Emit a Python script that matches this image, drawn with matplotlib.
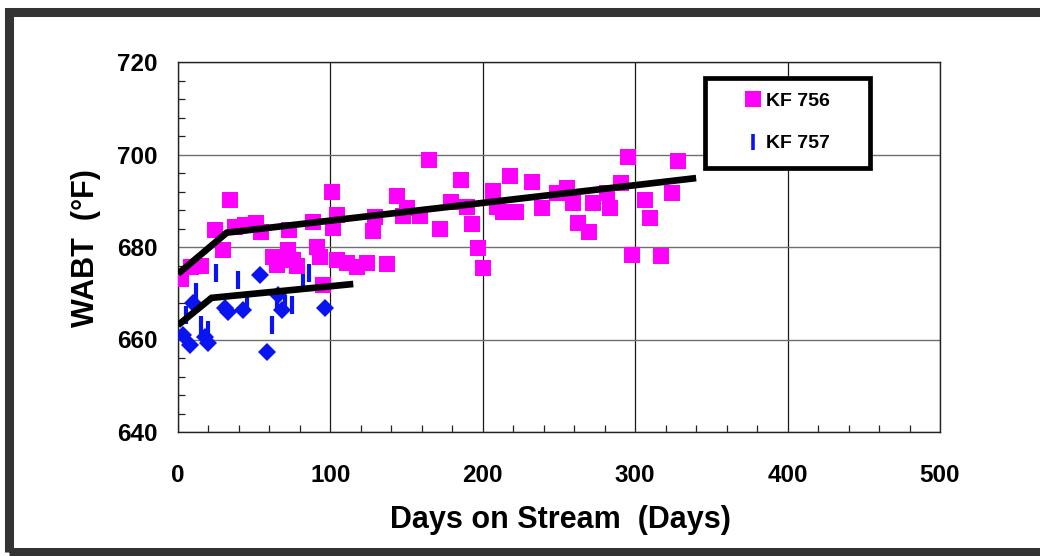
import matplotlib
matplotlib.use("Agg")
import matplotlib.pyplot as plt
from matplotlib.patches import Rectangle
from matplotlib.lines import Line2D
from matplotlib.ticker import MultipleLocator

plt.rcParams['font.family'] = ['Liberation Sans', 'DejaVu Sans']

# KF 756 (magenta squares)
kf756_days = [2, 8.5, 15, 24, 29.5, 34, 37.5, 44, 51, 54.5,
              62.3, 65, 72.2, 72.8, 75.5, 78, 88.6, 91.2, 93.2, 95,
              101, 101.7, 104.3, 104.3, 111, 117.5, 124, 128, 129, 137,
              143.7, 147.6, 150, 158.8, 164.7, 172, 179, 185.7, 189.6, 193,
              197, 200, 206.7, 209, 213, 218, 222, 232, 239, 248.7,
              255, 259, 262.5, 269.7, 272, 281.5, 283.5, 291, 295, 298,
              306.5, 309.7, 317, 324, 328]
kf756_wabt = [673, 675.7, 675.9, 683.7, 679.4, 690.2, 684.3, 684.8, 685.2, 683.2,
              677.8, 676.1, 679.4, 683.7, 677.2, 676, 685.4, 680, 677.8, 671.8,
              691.9, 684.1, 686.9, 677.2, 676.5, 675.7, 676.5, 683.5, 686.5, 676.3,
              691, 686.7, 688.4, 686.7, 698.8, 683.9, 689.7, 694.5, 688.6, 685,
              679.8, 675.5, 692.1, 688.6, 687.6, 695.4, 687.6, 694, 688.4, 691.7,
              692.8, 689.5, 685.2, 683.2, 689.5, 691.7, 688.4, 693.8, 699.4, 678.3,
              690.2, 686.3, 678, 691.7, 698.6]

# KF 757 (blue diamonds)
kf757_diamond_days = [3.3, 7.9, 9.8, 17.7, 19.7, 30.8, 32.8, 42.7, 53.8, 58.4, 65.6, 68.2, 96.5]
kf757_diamond_wabt = [661, 658.8, 667.9, 660.5, 659.2, 666.8, 665.9, 666.4, 674.0, 657.3, 669.6, 666.4, 666.8]

# KF 757 (blue vertical dashes)
kf757_days = [5.2, 11.8, 15.1, 19.7, 24.9, 39.4, 45.3, 61.7, 65, 70.2, 74.8, 82, 86]
kf757_wabt = [665.3, 670.3, 663.1, 662, 674.4, 672.9, 667.9, 663.1, 668.5, 667.7, 667.5, 672.2, 674.4]

# Trend lines
trend756_days = [0, 32, 340]
trend756_wabt = [674.2, 683.1, 694.9]
trend757_days = [0, 22, 115]
trend757_wabt = [663.1, 669.0, 672.0]

x_ticks = [0, 100, 200, 300, 400, 500]
y_ticks = [640, 660, 680, 700, 720]

W, H = 1040, 556
fig = plt.figure(figsize=(W / 100, H / 100), dpi=100)
fig.patch.set_facecolor('white')

L, R, B, T = 178, 940, 432, 62
ax = fig.add_axes([L / W, 1 - B / H, (R - L) / W, (B - T) / H])

ax.set_xlim(0, 500)
ax.set_ylim(640, 720)
ax.set_xticks(x_ticks)
ax.set_yticks(y_ticks)
ax.xaxis.set_minor_locator(MultipleLocator(20))
ax.yaxis.set_minor_locator(MultipleLocator(4))

ax.grid(True, which='major', axis='x', color='#1a1a1a', linewidth=0.9, zorder=0)
ax.grid(True, which='major', axis='y', color='#6e6e6e', linewidth=1.0, zorder=0)
ax.set_axisbelow(True)

for s in ax.spines.values():
    s.set_color('#222222')
    s.set_linewidth(1.0)

ax.tick_params(axis='both', which='major', length=0, labelsize=17.5)
ax.tick_params(axis='y', which='major', pad=15)
ax.tick_params(axis='x', which='major', pad=23)
ax.tick_params(axis='both', which='minor', direction='in', length=5, width=0.9, color='#222222')
for lab in ax.get_xticklabels() + ax.get_yticklabels():
    lab.set_fontweight('bold')

ax.plot(kf756_days, kf756_wabt, linestyle='none', marker='s', markersize=11,
        color='#FF00FF', markeredgewidth=0, zorder=3)
ax.plot(kf757_diamond_days, kf757_diamond_wabt, linestyle='none', marker='D', markersize=8.7,
        color='#0A14F0', markeredgewidth=0, zorder=4)
ax.plot(kf757_days, kf757_wabt, linestyle='none', marker='|', markersize=13,
        color='#0A14F0', markeredgewidth=3, zorder=4)
ax.plot(trend756_days, trend756_wabt, color='black', linewidth=4.8, zorder=5,
        solid_capstyle='butt', solid_joinstyle='miter')
ax.plot(trend757_days, trend757_wabt, color='black', linewidth=4.8, zorder=5,
        solid_capstyle='butt', solid_joinstyle='miter')

ax.set_xlabel('Days on Stream  (Days)', fontsize=22, fontweight='bold')
ax.set_ylabel('WABT  (°F)', fontsize=22, fontweight='bold')
ax.xaxis.label.set_va('center')
ax.yaxis.label.set_va('center')
ax.xaxis.set_label_coords((560 - L) / (R - L), (B - 520) / (B - T))
ax.yaxis.set_label_coords((86 - L) / (R - L), (B - 248) / (B - T))

# Legend box
bx0, bx1, by0, by1 = 705, 870, 78, 168
box = Rectangle(((bx0 - L) / (R - L), (B - by1) / (B - T)),
                (bx1 - bx0) / (R - L), (by1 - by0) / (B - T),
                transform=ax.transAxes, facecolor='white', edgecolor='black',
                linewidth=3.4, zorder=10, clip_on=False)
ax.add_patch(box)
handles = [Line2D([], [], linestyle='none', marker='s', markersize=11, color='#FF00FF', markeredgewidth=0),
           Line2D([], [], linestyle='none', marker='|', markersize=11, color='#0A14F0', markeredgewidth=2.6)]
leg = ax.legend(handles, ['KF 756', 'KF 757'], loc='upper left',
                bbox_to_anchor=((743 - L) / (R - L), (B - 92) / (B - T)),
                frameon=False, borderpad=0, borderaxespad=0, handlelength=1.0,
                handletextpad=0.2, labelspacing=1.3,
                prop={'weight': 'bold', 'size': 14})
leg.set_zorder(11)

# Outer dark frame
frame = Rectangle((9 / W, 1 - 551.5 / H), (1060 - 9) / W, (551.5 - 12) / H,
                  transform=fig.transFigure, facecolor='none', edgecolor='#333333',
                  linewidth=6.5, clip_on=False)
fig.add_artist(frame)

fig.savefig('out.png', dpi=100, facecolor='white')
